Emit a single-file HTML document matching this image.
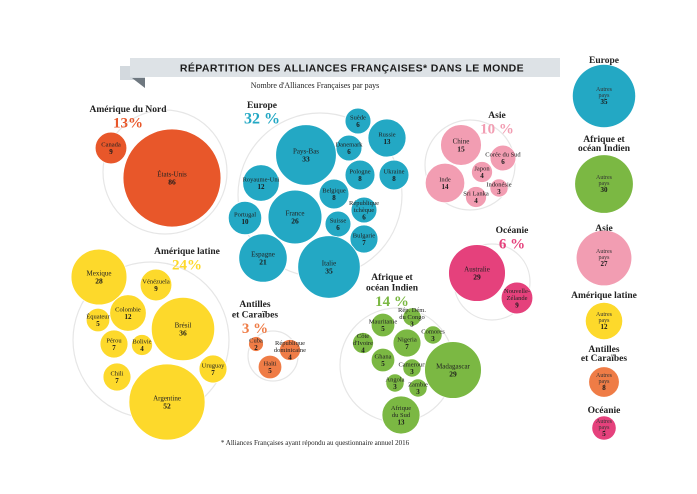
<!DOCTYPE html>
<html><head><meta charset="utf-8">
<style>
html,body{margin:0;padding:0;background:#fff;}
svg{display:block;font-family:"Liberation Serif",serif;}
</style></head>
<body>
<svg id="chart" width="697" height="494" viewBox="0 0 697 494">
<g>
<polygon points="120,66 145,66 145,88 135,80 120,80" fill="#d3d9de"/>
<polygon points="132,78 145,78 145,88" fill="#6f7880"/>
<rect x="130" y="58" width="430" height="19" fill="#dde2e6"/>
<text x="352" y="71.5" text-anchor="middle" font-family="Liberation Sans, sans-serif" font-weight="bold" font-size="10.5" letter-spacing="0.4" fill="#1a1a1a">RÉPARTITION DES ALLIANCES FRANÇAISES* DANS LE MONDE</text>
</g>
<text x="315" y="88" text-anchor="middle" font-size="8" fill="#222">Nombre d'Alliances Françaises par pays</text>
<text x="315" y="445" text-anchor="middle" font-size="7" fill="#222">* Alliances Françaises ayant répondu au questionnaire annuel 2016</text>
<g id="marks"></g>
</svg>
<script>
// scale: radius proportional to sqrt(value)
const K = 5.28;
function rScale(v){ return K*Math.sqrt(v); }

// ---- data ----
const naNames = ["Canada","États-Unis"];
const naValues = [9,86];
const euNames = ["Suède","Russie","Danemark","Pays-Bas","Pologne","Ukraine","Royaume-Uni","Belgique","République|tchèque","Portugal","France","Suisse","Bulgarie","Espagne","Italie"];
const euValues = [6,13,6,33,8,8,12,8,6,10,26,6,7,21,35];
const asNames = ["Chine","Corée du Sud","Japon","Inde","Indonésie","Sri Lanka"];
const asValues = [15,6,4,14,3,4];
const ocNames = ["Australie","Nouvelle-|Zélande"];
const ocValues = [29,9];
const afNames = ["Rép. Dém.|du Congo","Mauritanie","Comores","Côte|d'Ivoire","Nigeria","Ghana","Cameroun","Madagascar","Angola","Zambie","Afrique|du Sud"];
const afValues = [3,5,3,4,7,5,3,29,3,3,13];
const laNames = ["Mexique","Vénézuela","Colombie","Équateur","Brésil","Pérou","Bolivie","Uruguay","Chili","Argentine"];
const laValues = [28,9,12,5,36,7,4,7,7,52];
const caNames = ["Cuba","République|dominicaine","Haïti"];
const caValues = [2,4,5];
const otherRegions = ["Europe","Afrique et|océan Indien","Asie","Amérique latine","Antilles|et Caraïbes","Océanie"];
const otherValues = [35,30,27,12,8,5];
const regionPct = ["13%","32 %","10 %","6 %","14 %","24%","3 %"];

// ---- layout (bubble packing centers, not data) ----
const naPos = [[111,148],[172,178]];
const euPos = [[358,121],[387,138],[349,148],[306,155],[360,175],[394,175],[261,183],[334,194],[364,210],[245,218],[295,217],[338,224],[364,239],[263,258],[329,267]];
const asPos = [[461,145],[503,158],[482,172],[445,183],[499,188],[476,197]];
const ocPos = [[477,273],[517,298]];
const afPos = [[412,317],[383,325],[433,335],[363,343],[407,343],[383,360],[412,368],[453,370],[395,383],[418,388],[401,415]];
const laPos = [[99,277],[156,285],[128,313],[98,320],[183,329],[114,344],[142,345],[213,369],[117,377],[167,402]];
const caPos = [[256,344],[290,350],[270,367]];
const otherPos = [[604,96],[604,184],[604,258],[604,321],[604,382],[604,428]];
const otherTitleY = [63,142,231,298,352,413];

const NS="http://www.w3.org/2000/svg";
const g=document.getElementById('marks');
function el(tag,attrs,parent){const e=document.createElementNS(NS,tag);for(const k in attrs)e.setAttribute(k,attrs[k]);(parent||g).appendChild(e);return e;}
function txt(x,y,s,size,weight,fill,anchor,parent){const t=el('text',{x:x,y:y,'font-size':size,'font-weight':weight||'normal',fill:fill||'#1a1a1a','text-anchor':anchor||'middle'},parent);t.textContent=s;return t;}

function ring(cx,cy,r,name){
  const c=el('circle',{cx:cx,cy:cy,r:r,fill:'none',stroke:'#e6e6e6','stroke-width':1.2});
  
  
}
function regionTitle(x,y,lines,pct,color,pctSize,name){
  const grp=el('g',{});
  
  
  lines.forEach((l,i)=>txt(x,y+i*10.5,l,9.5,'bold','#222','middle',grp));
  txt(x,y+lines.length*10.5+5,pct,pctSize,'bold',color,'middle',grp);
}
function bubbles(names,values,pos,color,prefix){
  names.forEach((n,i)=>{
    const r=rScale(values[i]);const [cx,cy]=pos[i];
    const grp=el('g',{});
    
    
    el('circle',{cx:cx,cy:cy,r:r,fill:color,stroke:'#fff','stroke-width':0.8},grp);
    const lines=n.split('|');
    const fs=r>20?7:6.5;
    const total=lines.length+1;
    let y0=cy-(total-1)*fs*0.55+fs*0.35;
    lines.forEach((l,j)=>txt(cx,y0+j*fs*1.05,l,fs,'normal','#222','middle',grp));
    txt(cx,y0+lines.length*fs*1.05+0.5,String(values[i]),fs+0.5,'bold','#1a1a1a','middle',grp);
  });
}

ring(165,172,62,'north-america-ring');
ring(320,195,82,'europe-ring');
ring(470,165,45,'asia-ring');
ring(492,282,38,'oceania-ring');
ring(397,365,57,'africa-ring');
ring(151,340,78,'latin-america-ring');
ring(273,356,25,'caribbean-ring');

bubbles(naNames,naValues,naPos,'#e8572a','north-america');
bubbles(euNames,euValues,euPos,'#23a8c4','europe');
bubbles(asNames,asValues,asPos,'#f29db2','asia');
bubbles(ocNames,ocValues,ocPos,'#e5417c','oceania');
bubbles(afNames,afValues,afPos,'#7bb843','africa');
bubbles(laNames,laValues,laPos,'#fdd92b','latin-america');
bubbles(caNames,caValues,caPos,'#ef7c46','caribbean');

regionTitle(128,112,["Amérique du Nord"],regionPct[0],'#e8572a',15,'north-america-title');
regionTitle(262,108,["Europe"],regionPct[1],'#23a8c4',16,'europe-title');
regionTitle(497,118,["Asie"],regionPct[2],'#f29db2',15,'asia-title');
regionTitle(512,233,["Océanie"],regionPct[3],'#e5417c',15,'oceania-title');
regionTitle(392,280,["Afrique et","océan Indien"],regionPct[4],'#7bb843',15,'africa-title');
regionTitle(187,254,["Amérique latine"],regionPct[5],'#fdd92b',15,'latin-america-title');
regionTitle(255,307,["Antilles","et Caraïbes"],regionPct[6],'#ef7c46',15,'caribbean-title');

const otherColors=['#23a8c4','#7bb843','#f29db2','#fdd92b','#ef7c46','#e5417c'];
otherRegions.forEach((n,i)=>{
  const grp=el('g',{});
  
  
  const lines=n.split('|');
  lines.forEach((l,j)=>txt(otherPos[i][0],otherTitleY[i]+j*9,l,9.5,'bold','#222','middle',grp));
  const r=rScale(otherValues[i]);const [cx,cy]=otherPos[i];
  el('circle',{cx:cx,cy:cy,r:r,fill:otherColors[i]},grp);
  txt(cx,cy-5,'Autres',6,'normal','#333','middle',grp);
  txt(cx,cy+1,'pays',6,'normal','#333','middle',grp);
  txt(cx,cy+8,String(otherValues[i]),7,'bold','#1a1a1a','middle',grp);
});
</script>
</body></html>
